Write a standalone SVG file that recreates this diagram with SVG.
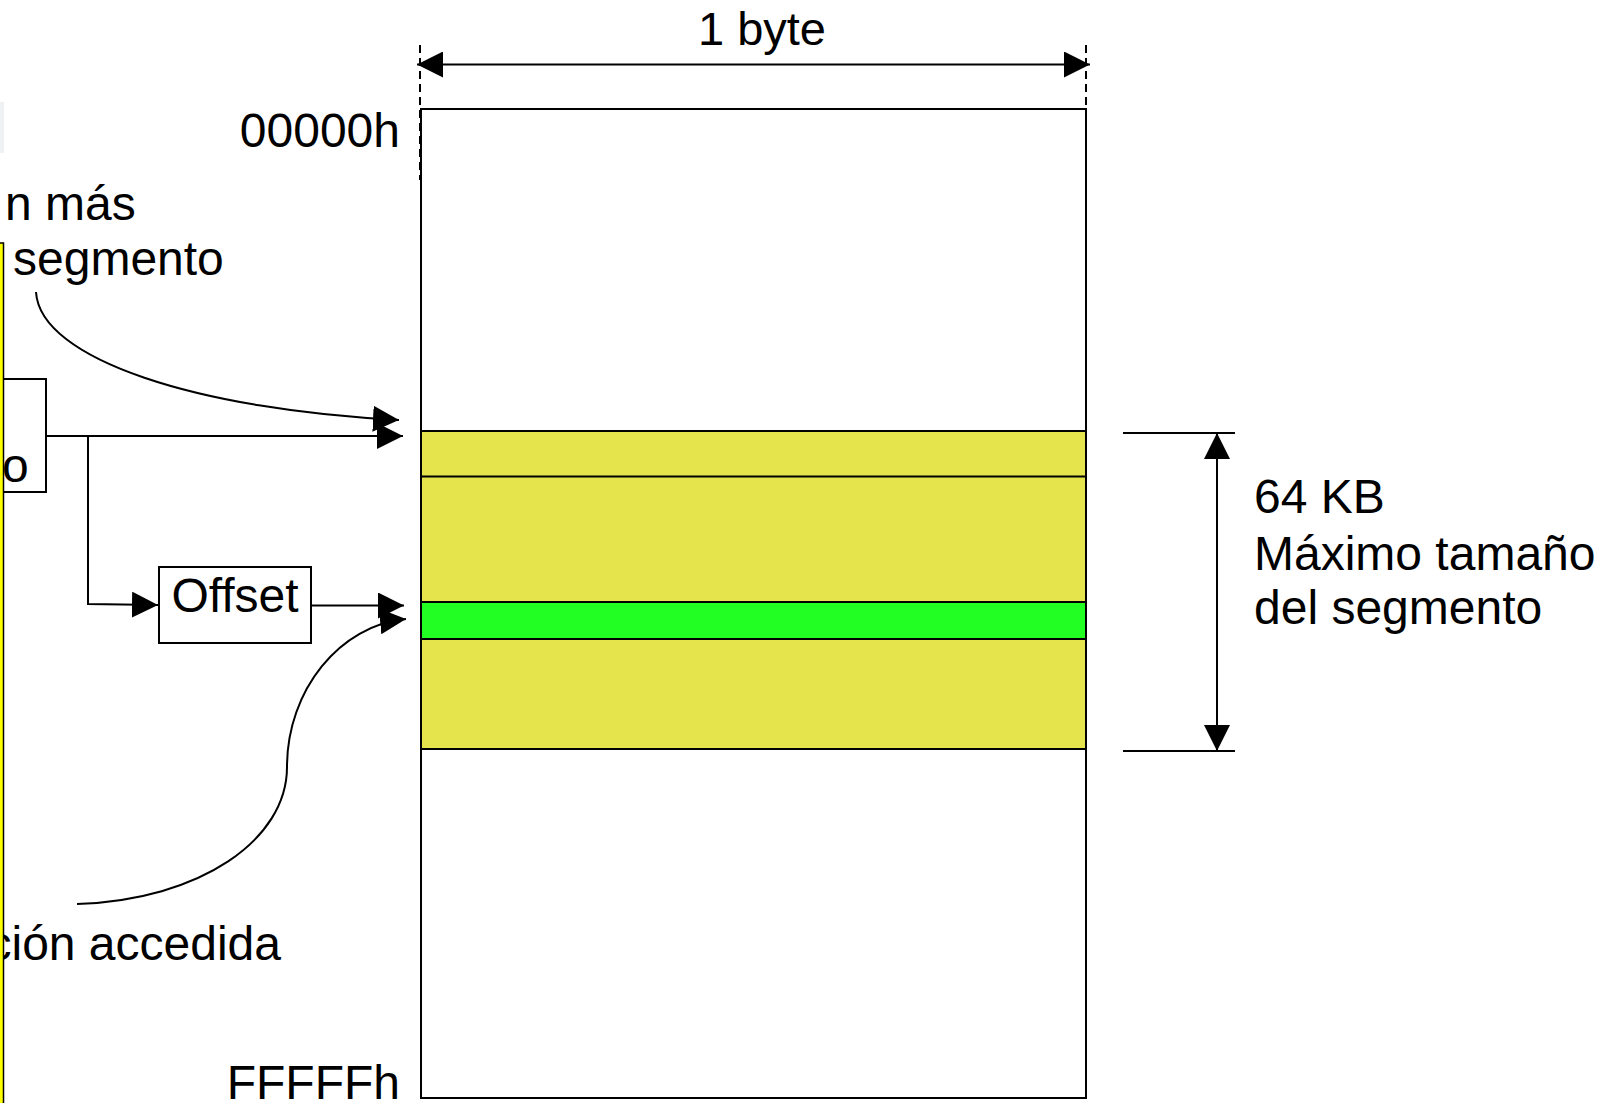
<svg xmlns="http://www.w3.org/2000/svg" width="1604" height="1103" viewBox="0 0 1604 1103">
<defs>
<style>
text{font-family:"Liberation Sans",Arial,sans-serif;font-size:48px;fill:#000}
.ln{fill:none;stroke:#000;stroke-width:2}
.box{fill:#fff;stroke:#000;stroke-width:2}
.dash{fill:none;stroke:#000;stroke-width:2;stroke-dasharray:8,5}
</style>
<marker id="ah" viewBox="0 0 26 26" markerWidth="26" markerHeight="26" refX="26" refY="13" orient="auto-start-reverse" markerUnits="userSpaceOnUse">
<path d="M0,0 L26,13 L0,26 z" fill="#000"/>
</marker>
</defs>
<rect width="1604" height="1103" fill="#fff"/>
<rect x="0" y="102" width="4" height="51" fill="#eef2f4"/>

<g id="memory">
<rect x="421" y="109" width="665" height="989" class="box"/>
<rect x="421" y="431" width="665" height="318" fill="#e5e44d" stroke="#000" stroke-width="2"/>
<line x1="421" y1="476.5" x2="1086" y2="476.5" class="ln"/>
<rect x="421" y="602" width="665" height="37" fill="#22ff22" stroke="#000" stroke-width="2"/>
<text x="400" y="147" text-anchor="end">00000h</text>
<text x="400" y="1099" text-anchor="end">FFFFFh</text>
</g>

<g id="width-dim">
<line x1="420" y1="45" x2="420" y2="180" class="dash"/>
<line x1="1086" y1="45" x2="1086" y2="180" class="dash"/>
<line x1="417" y1="64.5" x2="1090" y2="64.5" class="ln" marker-start="url(#ah)" marker-end="url(#ah)"/>
<text x="762" y="45" text-anchor="middle" style="font-size:47px">1 byte</text>
</g>

<g id="size-dim">
<line x1="1123" y1="433" x2="1235" y2="433" class="ln"/>
<line x1="1123" y1="751" x2="1235" y2="751" class="ln"/>
<line x1="1217" y1="433" x2="1217" y2="751" class="ln" marker-start="url(#ah)" marker-end="url(#ah)"/>
<text x="1254" y="513">64 KB</text>
<text x="1254" y="570">Máximo tamaño</text>
<text x="1254" y="624">del segmento</text>
</g>

<g id="segment-box">
<rect x="-20" y="379" width="66" height="113" class="box"/>
<text x="2" y="482">o</text>
</g>

<g id="offset-box">
<rect x="159" y="567" width="152" height="76" class="box"/>
<text x="235" y="612" text-anchor="middle">Offset</text>
</g>

<g id="labels">
<text x="5" y="220">n más</text>
<text x="13" y="275">segmento</text>
<text x="281" y="960" text-anchor="end">ción accedida</text>
</g>

<g id="connectors">
<path d="M36,292 C40,360 200,410 399,420" class="ln" marker-end="url(#ah)"/>
<line x1="46" y1="436" x2="403" y2="436" class="ln" marker-end="url(#ah)"/>
<polyline points="88,436 88,604 158,605" class="ln" marker-end="url(#ah)"/>
<line x1="311" y1="605.5" x2="404" y2="605.5" class="ln" marker-end="url(#ah)"/>
<path d="M77,904 C200,900 287,840 287,767 C287,690 340,625 406,619" class="ln" marker-end="url(#ah)"/>
</g>

<rect id="left-bar" x="-10" y="243" width="13.5" height="900" fill="#ffff00" stroke="#000" stroke-width="1.5"/>
</svg>
